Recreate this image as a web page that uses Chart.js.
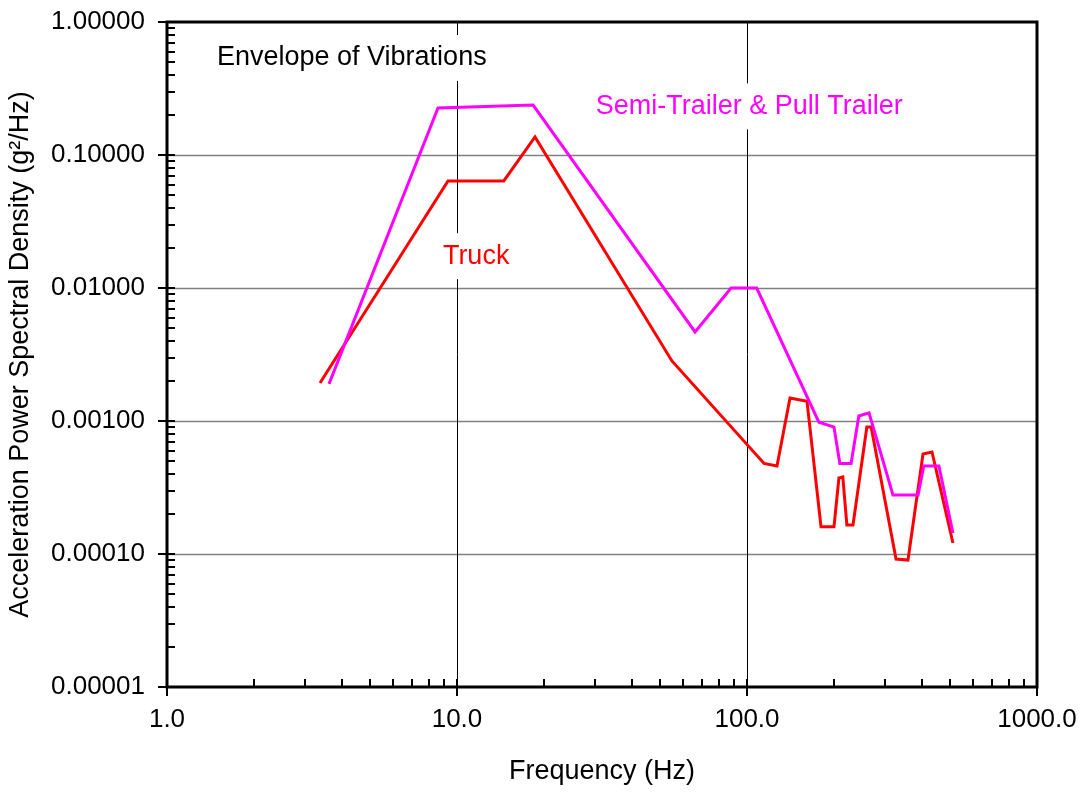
<!DOCTYPE html>
<html>
<head>
<meta charset="utf-8">
<script src="https://cdn.jsdelivr.net/npm/chart.js@4.4.1/dist/chart.umd.min.js"></script>
<style>
  html, body { margin: 0; padding: 0; background: #fff; }
  #wrap { width: 1086px; height: 792px; }
</style>
</head>
<body>
<div id="wrap"><canvas id="psd"></canvas></div>
<script>
// values (frequency Hz, PSD g^2/Hz)
const semiFreq = [3.62, 8.6, 18.3, 66.2, 88.1, 108, 177, 199.5, 209, 228.5, 243, 263.5, 318.6, 389, 407, 459, 513];
const semiPsd = [0.0019, 0.2256, 0.2376, 0.00467, 0.0100, 0.0100, 0.00098, 0.0009, 0.00048, 0.00048, 0.00109, 0.00115, 0.000278, 0.000278, 0.000459, 0.000459, 0.000144];

const truckFreq = [3.37, 9.31, 14.5, 18.58, 55.1, 114.5, 126.9, 140.7, 161, 180, 199.5, 207.5, 214, 221, 232, 259, 268, 326.5, 359, 404.5, 434.5, 513];
const truckPsd = [0.00193, 0.0638, 0.0638, 0.1366, 0.00283, 0.00048, 0.000459, 0.00149, 0.00141, 0.00016, 0.00016, 0.000373, 0.00038, 0.000165, 0.000165, 0.0009, 0.0009, 0.0000916, 0.0000901, 0.000565, 0.000585, 0.000121];

const xMajor = [1, 10, 100, 1000];
const yMajor = [0.00001, 0.0001, 0.001, 0.01, 0.1, 1];

// text notes placed in data coordinates
const notes = [
  { text: 'Envelope of Vibrations', x: 1.487, y: 0.536, color: '#000000' },
  { text: 'Semi-Trailer & Pull Trailer', x: 30.1, y: 0.232, color: '#ff00ff' },
  { text: 'Truck', x: 8.94, y: 0.01735, color: '#ff0000' }
];

const FONT = '"Liberation Sans", Arial, sans-serif';

function toPoints(xs, ys) {
  return xs.map((x, i) => ({ x: x, y: ys[i] }));
}

const gridPlugin = {
  id: 'gridPlugin',
  beforeDatasetsDraw(chart) {
    const ctx = chart.ctx;
    const xs = chart.scales.x, ys = chart.scales.y;
    const a = chart.chartArea;
    ctx.save();
    // horizontal grid
    ctx.strokeStyle = '#808080';
    ctx.lineWidth = 1.5;
    yMajor.forEach(v => {
      if (v === yMajor[0] || v === yMajor[yMajor.length - 1]) return;
      const y = Math.round(ys.getPixelForValue(v)) + 0.5;
      ctx.beginPath(); ctx.moveTo(a.left, y); ctx.lineTo(a.right, y); ctx.stroke();
    });
    // vertical grid
    ctx.strokeStyle = '#000000';
    ctx.lineWidth = 1;
    xMajor.forEach(v => {
      if (v === xMajor[0] || v === xMajor[xMajor.length - 1]) return;
      const x = Math.round(xs.getPixelForValue(v)) + 0.5;
      ctx.beginPath(); ctx.moveTo(x, a.top); ctx.lineTo(x, a.bottom); ctx.stroke();
    });
    // note boxes
    ctx.font = '27px ' + FONT;
    ctx.textBaseline = 'middle';
    notes.forEach(n => {
      const px = xs.getPixelForValue(n.x);
      const py = ys.getPixelForValue(n.y);
      const w = ctx.measureText(n.text).width;
      ctx.fillStyle = '#ffffff';
      ctx.fillRect(px - 6, py - 23, w + 12, 46);
      ctx.fillStyle = n.color;
      ctx.fillText(n.text, px, py);
    });
    ctx.restore();
  },
  afterDatasetsDraw(chart) {
    const ctx = chart.ctx;
    const xs = chart.scales.x, ys = chart.scales.y;
    const a = chart.chartArea;
    ctx.save();
    ctx.strokeStyle = '#000000';
    // minor ticks
    ctx.lineWidth = 2;
    for (let d = 0; d < 3; d++) {
      for (let m = 2; m <= 9; m++) {
        const x = Math.round(xs.getPixelForValue(m * Math.pow(10, d)));
        ctx.beginPath(); ctx.moveTo(x, a.bottom); ctx.lineTo(x, a.bottom - 8); ctx.stroke();
      }
    }
    for (let d = -5; d < 0; d++) {
      for (let m = 2; m <= 9; m++) {
        const y = Math.round(ys.getPixelForValue(m * Math.pow(10, d)));
        ctx.beginPath(); ctx.moveTo(a.left, y); ctx.lineTo(a.left + 8, y); ctx.stroke();
      }
    }
    // major ticks crossing the axes
    xMajor.forEach(v => {
      const x = Math.round(xs.getPixelForValue(v));
      ctx.beginPath(); ctx.moveTo(x, a.bottom - 8); ctx.lineTo(x, a.bottom + 9); ctx.stroke();
    });
    yMajor.forEach(v => {
      const y = Math.round(ys.getPixelForValue(v));
      ctx.beginPath(); ctx.moveTo(a.left - 9, y); ctx.lineTo(a.left + 8, y); ctx.stroke();
    });
    // frame
    ctx.lineWidth = 3;
    ctx.strokeRect(a.left, a.top, a.right - a.left, a.bottom - a.top);
    ctx.restore();
  }
};

new Chart(document.getElementById('psd'), {
  type: 'scatter',
  data: {
    datasets: [
      {
        label: 'Semi-Trailer & Pull Trailer',
        data: toPoints(semiFreq, semiPsd),
        showLine: true,
        borderColor: '#ff00ff',
        borderWidth: 3,
        pointRadius: 0,
        tension: 0
      },
      {
        label: 'Truck',
        data: toPoints(truckFreq, truckPsd),
        showLine: true,
        borderColor: '#ff0000',
        borderWidth: 3,
        pointRadius: 0,
        tension: 0
      }
    ]
  },
  options: {
    responsive: true,
    maintainAspectRatio: false,
    animation: false,
    layout: { padding: { left: 0, top: 22, right: 49, bottom: 0 } },
    plugins: {
      legend: { display: false },
      tooltip: { enabled: false }
    },
    scales: {
      x: {
        type: 'logarithmic',
        min: 1,
        max: 1000,
        afterBuildTicks: s => { s.ticks = xMajor.map(v => ({ value: v })); },
        afterFit: s => { s.height = 105; s.paddingLeft = 0; s.paddingRight = 0; },
        grid: { display: false, drawTicks: false },
        border: { display: false },
        ticks: {
          autoSkip: false,
          maxRotation: 0,
          padding: 17,
          color: '#000',
          font: { family: FONT, size: 26 },
          callback: v => Number(v).toFixed(1)
        },
        title: {
          display: true,
          text: 'Frequency (Hz)',
          color: '#000',
          font: { family: FONT, size: 27 },
          padding: { top: 0, bottom: 4 }
        }
      },
      y: {
        type: 'logarithmic',
        min: 0.00001,
        max: 1,
        afterBuildTicks: s => { s.ticks = yMajor.map(v => ({ value: v })); },
        afterFit: s => { s.width = 167; s.paddingTop = 0; s.paddingBottom = 0; },
        grid: { display: false, drawTicks: false },
        border: { display: false },
        ticks: {
          autoSkip: false,
          padding: 22,
          color: '#000',
          font: { family: FONT, size: 26 },
          callback: v => Number(v).toFixed(5)
        },
        title: {
          display: true,
          text: 'Acceleration Power Spectral Density (g²/Hz)',
          color: '#000',
          font: { family: FONT, size: 27 },
          padding: { top: 4, bottom: 0 }
        }
      }
    }
  },
  plugins: [gridPlugin]
});
</script>
</body>
</html>
